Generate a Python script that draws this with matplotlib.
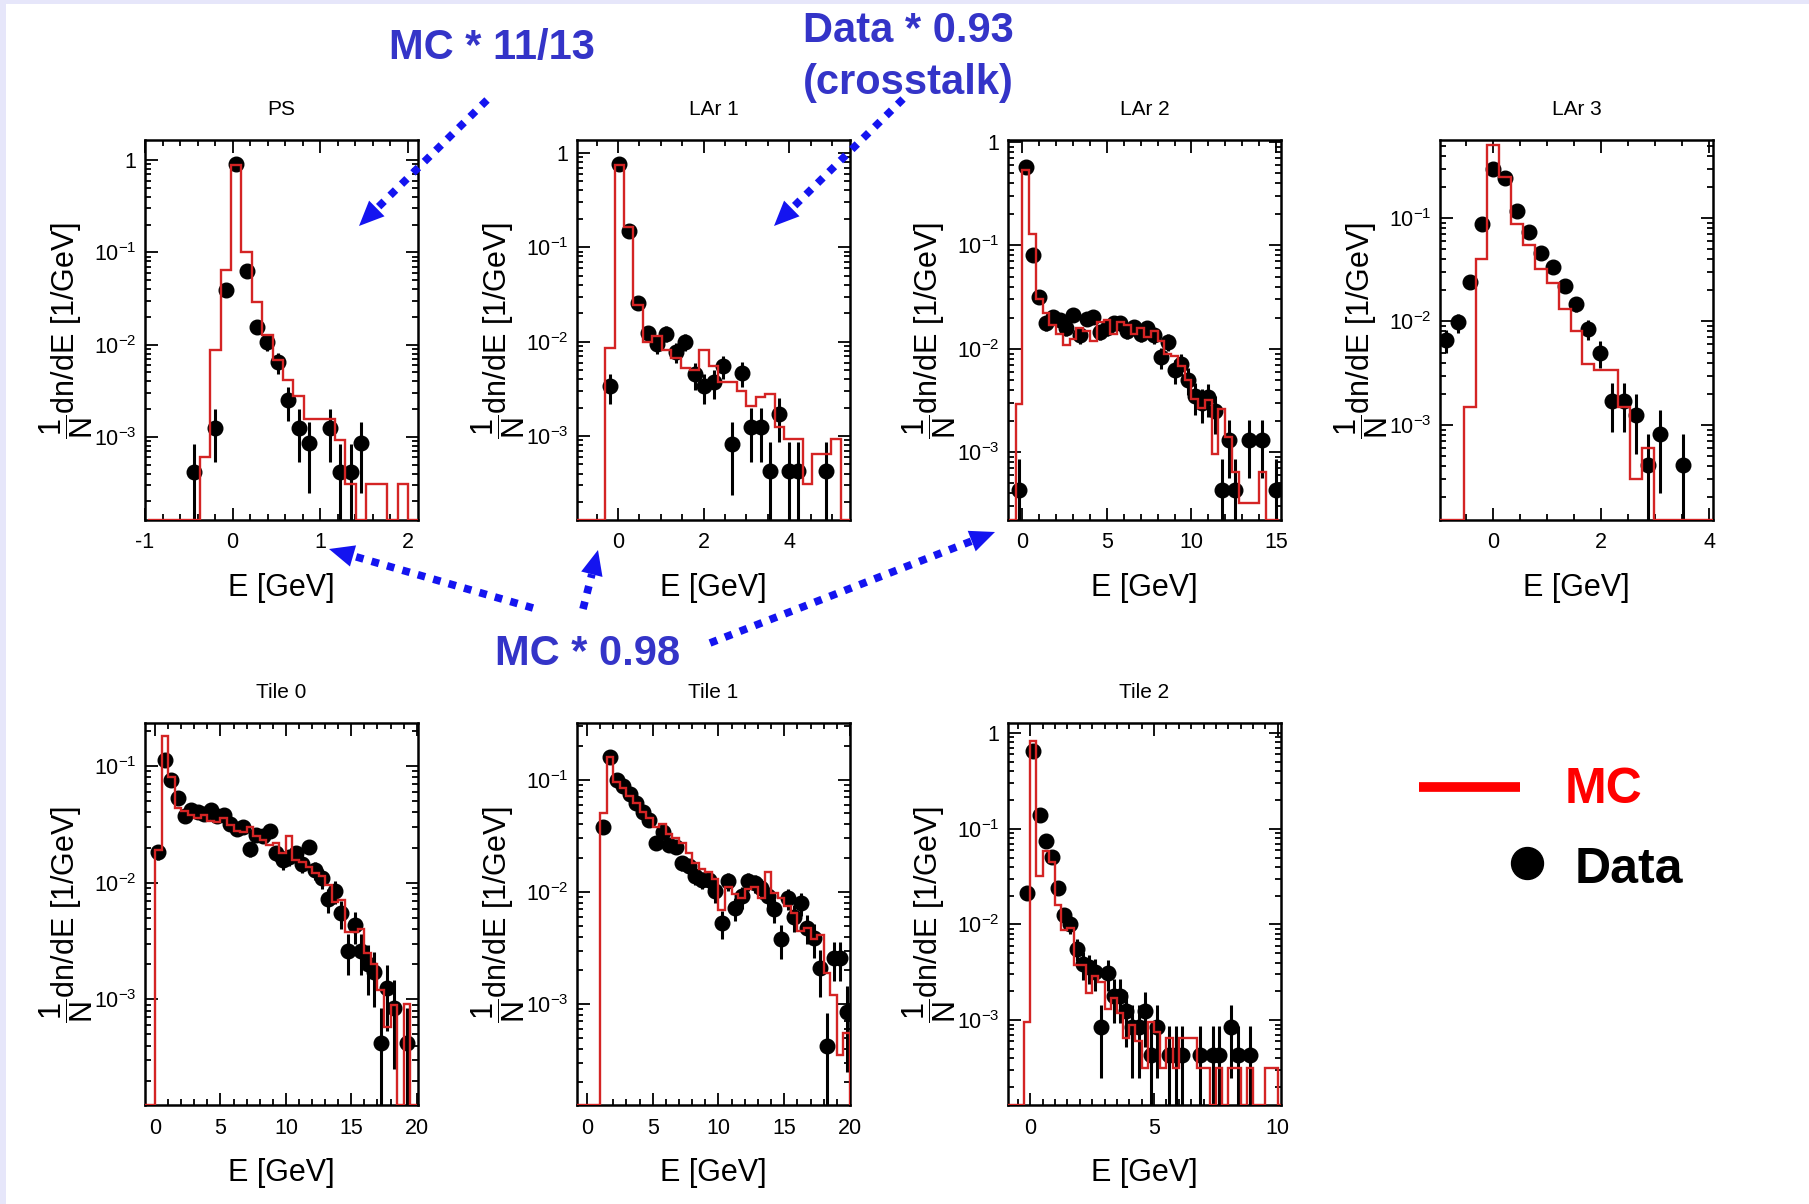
import numpy as np
import matplotlib
matplotlib.use('Agg')
import matplotlib.pyplot as plt
from matplotlib.ticker import (FixedLocator, LogLocator, NullFormatter,
                               FuncFormatter, MultipleLocator, AutoMinorLocator)
from matplotlib.patches import Polygon, Rectangle

plt.rcParams['font.family'] = ['Liberation Sans', 'DejaVu Sans']
plt.rcParams['mathtext.fontset'] = 'custom'
plt.rcParams['mathtext.rm'] = 'Liberation Sans'
plt.rcParams['mathtext.it'] = 'Liberation Sans:italic'
plt.rcParams['mathtext.bf'] = 'Liberation Sans:bold'
plt.rcParams['mathtext.default'] = 'regular'
plt.rcParams['axes.unicode_minus'] = False

# ---------------- per-layer spectra: uniform bins (lo, width) ----------------
# PS
ps_lo, ps_w = -0.97, 0.119
ps_mc = [0, 0, 0, 0, 0, 6e-4, 8.7e-3, 0.064, 0.88, 0.10, 0.029, 0.0126, 0.0068,
         0.0041, 0.0028, 1.55e-3, 1.55e-3, 1.55e-3, 9.2e-4, 3.1e-4, 0, 3.1e-4,
         3.1e-4, 0, 3.1e-4, 0]
ps_data = [0, 0, 0, 0, 4.2e-4, 0, 1.26e-3, 0.039, 0.905, 0.063, 0.0156, 0.0107,
           0.0065, 0.0025, 1.26e-3, 8.5e-4, 0, 1.26e-3, 4.2e-4, 4.2e-4, 8.5e-4,
           0, 0, 0, 0, 0]
ps_err = [0, 0, 0, 0, 4.2e-4, 0, 7.3e-4, 4e-3, 0.02, 5e-3, 2.6e-3, 2.1e-3,
          1.65e-3, 1.0e-3, 7.3e-4, 6e-4, 0, 7.3e-4, 4.2e-4, 4.2e-4, 6e-4,
          0, 0, 0, 0, 0]

# LAr 1
lar1_lo, lar1_w = -0.96, 0.22
lar1_mc = [0, 0, 0, 8.6e-3, 0.75, 0.166, 0.0245, 0.0100, 0.0114, 0.0081, 0.0067,
           0.0052, 0.0050, 0.0081, 0.0055, 0.0037, 0.0037, 0.0030, 0.0021, 0.0026,
           0.0028, 0.00124, 9.4e-4, 9.4e-4, 3.1e-4, 6.5e-4, 6.5e-4, 9.4e-4, 0]
lar1_data = [0, 0, 0, 3.4e-3, 0.76, 0.15, 0.0255, 0.0125, 0.0094, 0.0122, 0.0078,
             0.0100, 0.0045, 0.0034, 0.0037, 0.0055, 8.3e-4, 0.0047, 1.26e-3,
             1.26e-3, 4.3e-4, 1.7e-3, 4.3e-4, 4.3e-4, 0, 0, 4.3e-4, 0, 0]
lar1_err = [0, 0, 0, 1.2e-3, 0.018, 8e-3, 3.3e-3, 2.3e-3, 2e-3, 2.3e-3, 1.8e-3,
            2.05e-3, 1.4e-3, 1.2e-3, 1.25e-3, 1.5e-3, 5.9e-4, 1.4e-3, 7.3e-4,
            7.3e-4, 4.3e-4, 8.4e-4, 4.3e-4, 4.3e-4, 0, 0, 4.3e-4, 0, 0]

# LAr 2
lar2_lo, lar2_w = -0.8, 0.4
lar2_mc = [0, 2.9e-3, 0.54, 0.13, 0.030, 0.022, 0.017, 0.014, 0.011, 0.0125,
           0.016, 0.015, 0.012, 0.018, 0.019, 0.014, 0.018, 0.017, 0.014, 0.016,
           0.013, 0.015, 0.012, 0.009, 0.0085, 0.0068, 0.0050, 0.0033, 0.0027,
           0.0032, 9.5e-4, 2.6e-3, 1.4e-3, 6.4e-4, 3.2e-4, 3.2e-4, 3.2e-4,
           6.4e-4, 0, 0]
lar2_data = [0, 4.3e-4, 0.57, 0.081, 0.032, 0.0176, 0.0204, 0.019, 0.0158, 0.021,
             0.0135, 0.0196, 0.0204, 0.0146, 0.0158, 0.0176, 0.0176, 0.015,
             0.0163, 0.014, 0.0158, 0.0135, 0.0083, 0.0117, 0.0062, 0.0072,
             0.0050, 0.0035, 0.0030, 0.0034, 0.0025, 4.3e-4, 1.3e-3, 4.3e-4, 0,
             1.3e-3, 0, 1.3e-3, 0, 4.3e-4]
lar2_err = [0, 4.3e-4, 0.0155, 5.8e-3, 3.7e-3, 2.7e-3, 2.9e-3, 2.8e-3, 2.6e-3,
            3e-3, 2.4e-3, 2.9e-3, 2.9e-3, 2.5e-3, 2.6e-3, 2.7e-3, 2.7e-3, 2.5e-3,
            2.6e-3, 2.4e-3, 2.6e-3, 2.4e-3, 1.9e-3, 2.2e-3, 1.6e-3, 1.7e-3,
            1.45e-3, 1.2e-3, 1.1e-3, 1.2e-3, 1.0e-3, 4.3e-4, 7.4e-4, 4.3e-4, 0,
            7.4e-4, 0, 7.4e-4, 0, 4.3e-4]

# LAr 3
lar3_lo, lar3_w = -0.99, 0.22
lar3_mc = [0, 0, 1.5e-3, 0.04, 0.51, 0.25, 0.087, 0.055, 0.032, 0.0235, 0.0132,
           0.0080, 0.0039, 0.0034, 0.0034, 1.5e-3, 3.0e-4, 6.0e-4, 0, 0, 0, 0, 0]
lar3_data = [0.0066, 0.0098, 0.024, 0.087, 0.298, 0.245, 0.116, 0.073, 0.046,
             0.034, 0.022, 0.0148, 0.0085, 0.0050, 0.0017, 0.0017, 0.00125,
             4.1e-4, 8.1e-4, 0, 4.1e-4, 0, 0]
lar3_err = [1.6e-3, 2e-3, 3.2e-3, 6e-3, 0.011, 0.01, 7e-3, 5.5e-3, 4.4e-3, 3.8e-3,
            3e-3, 2.5e-3, 1.9e-3, 1.45e-3, 8.4e-4, 8.4e-4, 7.3e-4, 4.1e-4, 5.9e-4,
            0, 4.1e-4, 0, 0]

# Tile 0
tile0_lo, tile0_w = -1.0, 0.5
tile0_mc = [0, 0, 0.019, 0.18, 0.081, 0.044, 0.041, 0.038, 0.036, 0.038, 0.034,
            0.033, 0.036, 0.031, 0.028, 0.027, 0.030, 0.025, 0.023, 0.021, 0.022,
            0.018, 0.025, 0.0155, 0.015, 0.0135, 0.012, 0.0115, 0.0095, 0.0068,
            0.0071, 0.0038, 0.0038, 0.0040, 0.0025, 0.0020, 0.0012, 5.8e-4,
            8.9e-4, 0, 9.2e-4, 0]
tile0_data = [0, 0, 0.0184, 0.112, 0.076, 0.053, 0.037, 0.042, 0.040, 0.039,
              0.042, 0.037, 0.038, 0.032, 0.029, 0.030, 0.0196, 0.0255, 0.025,
              0.0275, 0.018, 0.0155, 0.0166, 0.0178, 0.0146, 0.0204, 0.0128,
              0.011, 0.0072, 0.0085, 0.0055, 0.0026, 0.0043, 0.0026, 0.0020,
              0.0017, 4.2e-4, 1.25e-3, 8.5e-4, 0, 4.2e-4, 0]
tile0_err = [0, 0, 2.8e-3, 6.9e-3, 5.6e-3, 4.7e-3, 3.9e-3, 4.2e-3, 4.1e-3, 4.0e-3,
             4.2e-3, 3.9e-3, 4.0e-3, 3.7e-3, 3.5e-3, 3.5e-3, 2.9e-3, 3.3e-3,
             3.2e-3, 3.4e-3, 2.7e-3, 2.6e-3, 2.6e-3, 2.7e-3, 2.5e-3, 2.9e-3,
             2.3e-3, 2.1e-3, 1.7e-3, 1.9e-3, 1.5e-3, 1.0e-3, 1.3e-3, 1.0e-3,
             9.2e-4, 8.4e-4, 4.2e-4, 7.2e-4, 6.0e-4, 0, 4.2e-4, 0]

# Tile 1
tile1_lo, tile1_w = -1.0, 0.5
tile1_mc = [0, 0, 0, 0, 0.05, 0.16, 0.095, 0.085, 0.072, 0.062, 0.052, 0.046,
            0.038, 0.040, 0.033, 0.030, 0.027, 0.022, 0.018, 0.016, 0.015, 0.013,
            0.0069, 0.011, 0.0095, 0.0088, 0.0105, 0.011, 0.0088, 0.015, 0.0098,
            0.0088, 0.0075, 0.0065, 0.0045, 0.0048, 0.0038, 0.0041, 0.0019,
            0.0012, 3.5e-4, 5.5e-4]
tile1_data = [0, 0, 0, 0, 0.038, 0.159, 0.100, 0.087, 0.074, 0.062, 0.052, 0.044,
              0.027, 0.034, 0.026, 0.025, 0.018, 0.017, 0.0138, 0.0128, 0.0128,
              0.0101, 0.0053, 0.0124, 0.0072, 0.0091, 0.0124, 0.012, 0.0108,
              0.0091, 0.0070, 0.0038, 0.0088, 0.0060, 0.0079, 0.0048, 0.0039,
              0.0021, 4.2e-4, 0.0026, 0.0026, 8.5e-4]
tile1_err = [0, 0, 0, 0, 4e-3, 8.2e-3, 6.5e-3, 6e-3, 5.6e-3, 5.1e-3, 4.7e-3,
             4.3e-3, 3.4e-3, 3.8e-3, 3.3e-3, 3.2e-3, 2.7e-3, 2.7e-3, 2.4e-3,
             2.3e-3, 2.3e-3, 2.1e-3, 1.5e-3, 2.3e-3, 1.7e-3, 2e-3, 2.3e-3, 2.2e-3,
             2.1e-3, 2e-3, 1.7e-3, 1.3e-3, 1.9e-3, 1.6e-3, 1.8e-3, 1.4e-3, 1.3e-3,
             9.4e-4, 4.2e-4, 1.0e-3, 1.0e-3, 6e-4]

# Tile 2
tile2_lo, tile2_w = -1.0, 0.25
tile2_mc = [0, 0, 0, 9.6e-4, 0.82, 0.032, 0.058, 0.045, 0.016, 0.0088, 0.0091,
            0.0038, 0.0038, 0.0019, 0.0029, 0.0025, 0.0013, 0.0017, 0.0012,
            6.5e-4, 9e-4, 6.0e-4, 3.2e-4, 9.5e-4, 7.5e-4, 3.2e-4, 6.5e-4, 3.2e-4,
            6.5e-4, 6.5e-4, 6.5e-4, 3.2e-4, 3.2e-4, 0, 3.2e-4, 0, 3.2e-4, 3.2e-4,
            0, 3.2e-4, 0, 0, 3.2e-4, 3.2e-4, 0]
tile2_data = [0, 0, 0, 0.0213, 0.64, 0.14, 0.074, 0.051, 0.024, 0.0126, 0.010,
              0.0056, 0.0039, 0.0036, 0.0032, 8.5e-4, 0.0031, 0.0018, 0.0018,
              0.00126, 8.5e-4, 8.5e-4, 0.00126, 4.3e-4, 8.5e-4, 0, 4.3e-4, 4.3e-4,
              4.3e-4, 0, 0, 4.3e-4, 0, 4.3e-4, 4.3e-4, 0, 8.5e-4, 4.3e-4, 0,
              4.3e-4, 0, 0, 0, 0, 0]
tile2_err = [0, 0, 0, 3e-3, 0.016, 7.7e-3, 5.6e-3, 4.6e-3, 3.2e-3, 2.3e-3, 2.1e-3,
             1.5e-3, 1.3e-3, 1.2e-3, 1.2e-3, 6e-4, 1.1e-3, 8.7e-4, 8.7e-4, 7.3e-4,
             6e-4, 6e-4, 7.3e-4, 4.3e-4, 6e-4, 0, 4.3e-4, 4.3e-4, 4.3e-4, 0, 0,
             4.3e-4, 0, 4.3e-4, 4.3e-4, 0, 6e-4, 4.3e-4, 0, 4.3e-4, 0, 0, 0, 0, 0]

# title, bins, x range, y range, major x step, minor divisions, column, row
panels = [
    ('PS', ps_lo, ps_w, ps_mc, ps_data, ps_err, (-1.0, 2.12), (1.26e-4, 1.65), 1, 5, 0, 0),
    ('LAr 1', lar1_lo, lar1_w, lar1_mc, lar1_data, lar1_err, (-0.96, 5.42), (1.29e-4, 1.37), 2, 4, 1, 0),
    ('LAr 2', lar2_lo, lar2_w, lar2_mc, lar2_data, lar2_err, (-0.85, 15.3), (2.2e-4, 1.05), 5, 5, 2, 0),
    ('LAr 3', lar3_lo, lar3_w, lar3_mc, lar3_data, lar3_err, (-0.99, 4.07), (1.2e-4, 0.57), 2, 4, 3, 0),
    ('Tile 0', tile0_lo, tile0_w, tile0_mc, tile0_data, tile0_err, (-0.77, 20.1), (1.24e-4, 0.234), 5, 5, 0, 1),
    ('Tile 1', tile1_lo, tile1_w, tile1_mc, tile1_data, tile1_err, (-0.76, 20.0), (1.26e-4, 0.32), 5, 5, 1, 1),
    ('Tile 2', tile2_lo, tile2_w, tile2_mc, tile2_data, tile2_err, (-0.9, 10.13), (1.3e-4, 1.27), 5, 10, 2, 1),
]

W, H = 1809, 1204
RED = '#d42424'
BLUE_TXT = '#3434c8'
BLUE_ARR = '#1414f0'

col_left = [145, 577, 1008, 1440]
row_top = [140, 723]
row_h = [380, 382]
ax_w = 273


def log_label(v, pos):
    e = int(round(np.log10(v)))
    return '1' if e == 0 else r'$10^{%d}$' % e


fig = plt.figure(figsize=(W / 100, H / 100), dpi=100)
fig.patch.set_facecolor('white')

for (title, lo, w, mc, data, err, xlim, ylim, xmaj, xmin_n, col, row) in panels:
    top, h = row_top[row], row_h[row]
    ax = fig.add_axes([col_left[col] / W, 1 - (top + h) / H, ax_w / W, h / H])
    mc = np.asarray(mc, float)
    data = np.asarray(data, float)
    err = np.asarray(err, float)
    edges = lo + w * np.arange(len(mc) + 1)
    centres = lo + w * (np.arange(len(mc)) + 0.5)
    ymin = ylim[0]

    ax.set_yscale('log')
    ax.set_xlim(*xlim)
    ax.set_ylim(*ylim)

    # data points with statistical errors, bars running to the floor when needed
    sel = data > 0
    y = data[sel]
    e = err[sel]
    low_end = np.where(y - e > ymin, y - e, ymin * 0.5)
    ax.errorbar(centres[sel], y, yerr=[y - low_end, e], fmt='o', ms=10.5,
                color='black', ecolor='black', elinewidth=2.2, capsize=0, zorder=2)

    # MC histogram, empty bins sit on the axis floor
    ax.stairs(np.where(mc > 0, mc, ymin), edges, baseline=ymin,
              color=RED, lw=1.7, zorder=3)

    ax.set_title(title, fontsize=15, pad=18)
    ax.set_xlabel('E [GeV]', fontsize=22)
    ax.xaxis.set_label_coords(0.5, -68 / h)
    ax.xaxis.label.set_verticalalignment('center')
    ax.set_ylabel(r'$\dfrac{1}{N}$dn/dE [1/GeV]', fontsize=22)
    ax.yaxis.set_label_coords(-79 / ax_w, 0.5)
    ax.yaxis.label.set_verticalalignment('center')

    ax.xaxis.set_major_locator(MultipleLocator(xmaj))
    ax.xaxis.set_minor_locator(AutoMinorLocator(xmin_n))
    ax.yaxis.set_major_locator(FixedLocator([1e-3, 1e-2, 1e-1, 1]))
    ax.yaxis.set_major_formatter(FuncFormatter(log_label))
    ax.yaxis.set_minor_locator(LogLocator(base=10, subs=np.arange(2, 10)))
    ax.yaxis.set_minor_formatter(NullFormatter())
    ax.tick_params(which='both', direction='in', top=True, right=True,
                   width=1.3, labelsize=15.5)
    ax.tick_params(which='major', length=9)
    ax.tick_params(which='minor', length=4.5)
    ax.tick_params(axis='y', pad=6)
    ax.tick_params(axis='x', pad=9)
    for s in ax.spines.values():
        s.set_linewidth(1.8)

# ---------------- slide overlay: frame, notes, arrows, legend ----------------
ov = fig.add_axes([0, 0, 1, 1], zorder=10)
ov.set_xlim(0, W)
ov.set_ylim(H, 0)
ov.axis('off')
ov.patch.set_alpha(0)

ov.add_patch(Rectangle((0, 0), W, 4, color='#e6e6fa', lw=0))
ov.add_patch(Rectangle((0, 0), 6, H, color='#e6e6fa', lw=0))


def dotted_arrow(tail, tip, color=BLUE_ARR, head_len=25, head_hw=11):
    tail = np.asarray(tail, float)
    tip = np.asarray(tip, float)
    d = tip - tail
    u = d / np.hypot(*d)
    n = np.array([-u[1], u[0]])
    base = tip - head_len * u
    ov.plot([tail[0], base[0]], [tail[1], base[1]], color=color, lw=5.5,
            ls=(0, (1, 1.1)), dash_capstyle='butt')
    ov.add_patch(Polygon([tip, base + head_hw * n, base - head_hw * n],
                         closed=True, color=color, lw=0))


note = dict(ha='center', va='center', fontsize=30, fontweight='bold', color=BLUE_TXT)
ov.text(492, 48, 'MC * 11/13', **note)
ov.text(908, 31, 'Data * 0.93', **note)
ov.text(908, 83, '(crosstalk)', **note)
ov.text(588, 654, 'MC * 0.98', **note)

dotted_arrow((487, 100), (359, 226))
dotted_arrow((903, 99), (774, 226))
dotted_arrow((533, 608), (329, 549))
dotted_arrow((583, 609), (598, 550))
dotted_arrow((710, 643), (995, 532))

# legend
ov.plot([1419, 1520], [787, 787], color='#ff0000', lw=7, solid_capstyle='butt')
ov.text(1565, 790, 'MC', ha='left', va='center', fontsize=36,
        fontweight='bold', color='#ff0000')
ov.plot([1527], [863], 'o', color='black', ms=23)
ov.text(1575, 870, 'Data', ha='left', va='center', fontsize=36,
        fontweight='bold', color='black')

fig.savefig('out.png', dpi=100)
